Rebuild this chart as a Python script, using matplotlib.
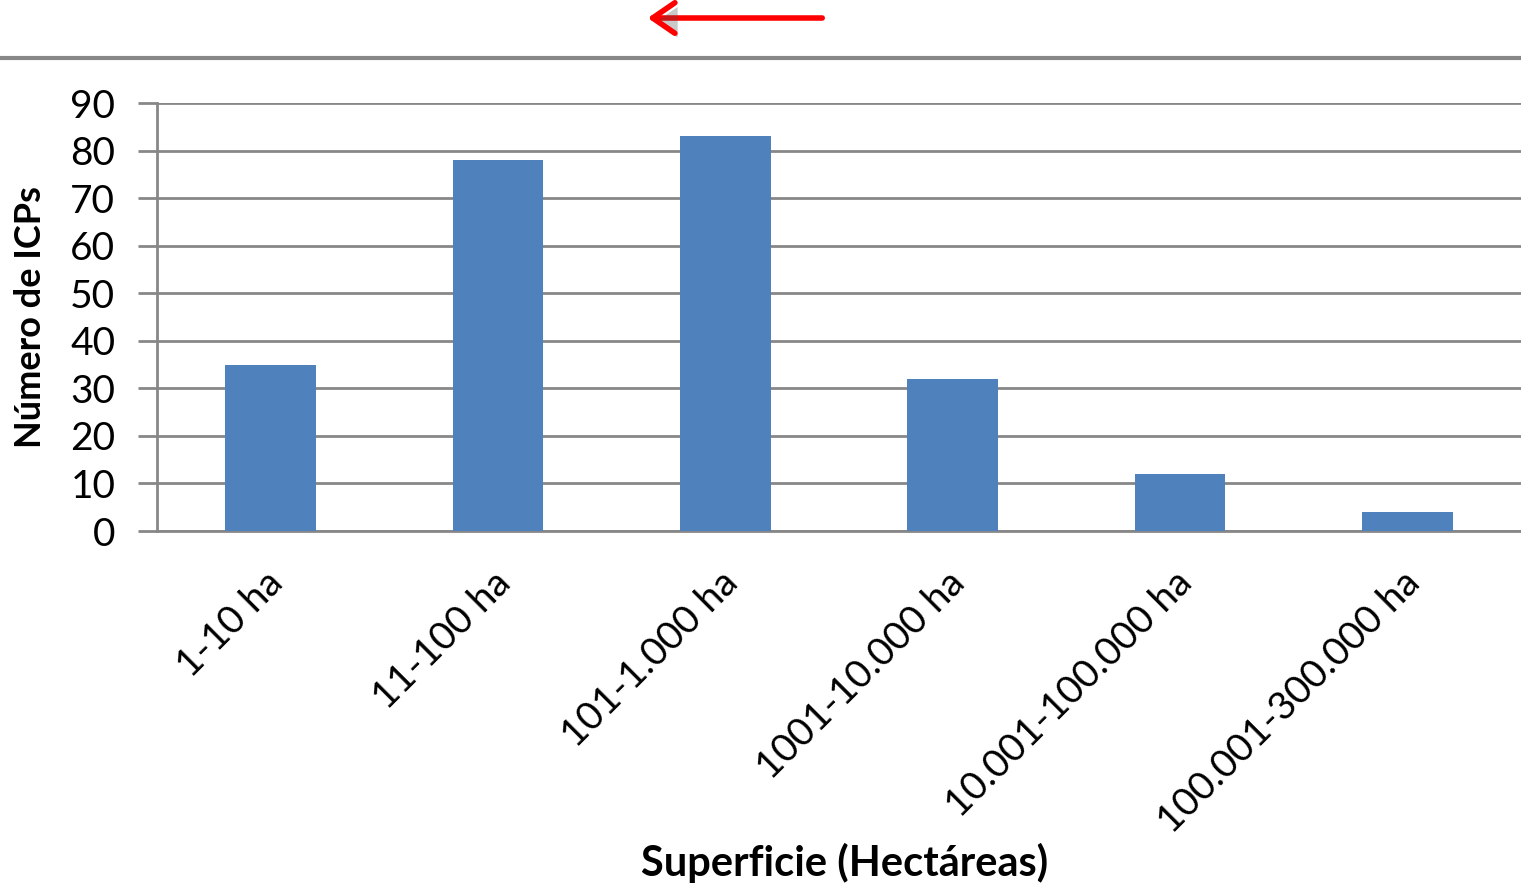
"""Bar chart: number of ICPs by surface range."""

import matplotlib.pyplot as plt
import matplotlib.patheffects as pe
import matplotlib.transforms as mtransforms
import numpy as np
from matplotlib.lines import Line2D
from matplotlib.patches import FancyArrowPatch

categories = [
    "1-10 ha",
    "11-100 ha",
    "101-1.000 ha",
    "1001-10.000 ha",
    "10.001-100.000 ha",
    "100.001-300.000 ha",
]
counts = [35, 78, 83, 32, 12, 4]
y_ticks = [0, 10, 20, 30, 40, 50, 60, 70, 80, 90]

plt.rcParams["font.family"] = ["Lato", "DejaVu Sans"]

W, H = 1521, 884
fig = plt.figure(figsize=(W / 100, H / 100), dpi=100)
ax = fig.add_axes([157 / W, 1 - 531 / H, (W - 157) / W, (531 - 103) / H])

grid_color = "#878787"
x = np.arange(len(categories))
ax.bar(x, counts, width=0.4, color="#4F81BD", zorder=3)

ax.set_xlim(-0.5, len(categories) - 0.5)
ax.set_ylim(0, 90)
ax.set_yticks(y_ticks)
ax.set_yticklabels([str(t) for t in y_ticks], fontsize=28)
ax.yaxis.grid(True, color=grid_color, linewidth=2, zorder=0)
ax.set_axisbelow(True)

ax.set_xticks(x)
ax.set_xticklabels(categories, fontsize=28, rotation=45, ha="right", va="top",
                   rotation_mode="anchor")
ax.tick_params(axis="x", length=0, pad=24)
ax.tick_params(axis="y", length=14, width=2, color=grid_color, pad=16)
shift = mtransforms.ScaledTranslation(-0.06, 0, fig.dpi_scale_trans)
for label in ax.get_xticklabels():
    label.set_transform(label.get_transform() + shift)

for side in ("top", "right"):
    ax.spines[side].set_visible(False)
ax.spines["left"].set_color(grid_color)
ax.spines["left"].set_linewidth(2)
ax.spines["bottom"].set_color(grid_color)
ax.spines["bottom"].set_linewidth(2)

fig.text(31 / W, 1 - 317 / H, "Número de ICPs", rotation=90, fontsize=26,
         fontweight="bold", ha="center", va="center")
fig.text(845 / W, 1 - 863 / H, "Superficie (Hectáreas)", fontsize=30,
         fontweight="bold", ha="center", va="center")

# decorative line and arrow at the top
fig.add_artist(Line2D([0, 1], [1 - 58 / H, 1 - 58 / H], color=grid_color,
                      linewidth=3, transform=fig.transFigure))
fig.patches.append(FancyArrowPatch(
    (825 / W, 1 - 18 / H), (645 / W, 1 - 18 / H),
    transform=fig.transFigure, arrowstyle="->,head_length=8,head_width=5.5",
    color="#FF0000", linewidth=4, mutation_scale=2, capstyle="round",
    joinstyle="round",
    path_effects=[pe.SimplePatchShadow(offset=(2, -3), alpha=0.3), pe.Normal()]))

fig.savefig("out.png", dpi=100)
